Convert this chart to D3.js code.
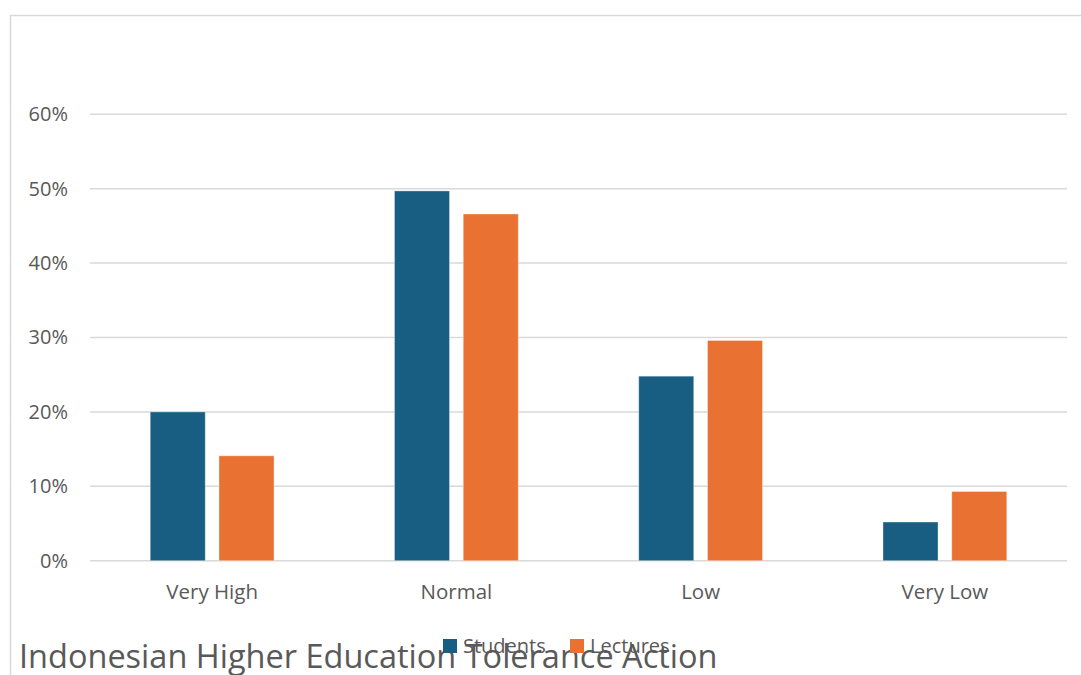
<!DOCTYPE html>
<html><head><meta charset="utf-8">
<script src="https://cdn.jsdelivr.net/npm/d3@7"></script>
<style>body{margin:0;background:#fff;}svg{display:block;font-family:"Open Sans",sans-serif;}</style>
</head><body>
<svg id="c" width="1081" height="675"></svg>
<script>
const categories = ["Very High", "Normal", "Low", "Very Low"];
const seriesNames = ["Students", "Lectures"];
const students = [0.200, 0.497, 0.248, 0.052];
const lectures = [0.141, 0.466, 0.296, 0.093];
const yTicks = [0, 0.1, 0.2, 0.3, 0.4, 0.5, 0.6];
const colors = ["#175e82", "#e97132"];
const title = "Indonesian Higher Education Tolerance Action";

const svg = d3.select("#c");
// chart frame
svg.append("path").attr("d", "M10.5,675 V15.5 H1081").attr("fill", "none").attr("stroke", "#d9d9d9").attr("stroke-width", 1.5);

const pLeft = 90, pRight = 1067, pTop = 114.3, pBottom = 560.7;
const x = d3.scaleBand().domain(categories).range([pLeft, pRight]).paddingInner(0).paddingOuter(0);
const y = d3.scaleLinear().domain([0, 0.6]).range([pBottom, pTop]);
const inner = d3.scaleBand().domain(seriesNames).range([0, x.bandwidth()]).paddingInner(0.2).paddingOuter(0.876);

// gridlines
svg.append("g").selectAll("line").data(yTicks).join("line")
  .attr("x1", pLeft).attr("x2", pRight)
  .attr("y1", d => y(d)).attr("y2", d => y(d))
  .attr("stroke", "#d9d9d9").attr("stroke-width", 1.5);

// y axis labels
const yAxis = d3.axisLeft(y).tickValues(yTicks).tickFormat(d3.format(".0%")).tickSize(0).tickPadding(22);
const yg = svg.append("g").attr("transform", `translate(${pLeft},0)`).call(yAxis);
yg.select(".domain").remove();
yg.selectAll("text").attr("font-size", 20).attr("fill", "#595959").attr("font-family", "Open Sans");

// bars
const data = [students, lectures];
const groups = svg.append("g").selectAll("g").data(seriesNames).join("g").attr("fill", (d, i) => colors[i]);
groups.selectAll("rect").data((s, i) => categories.map((c, j) => ({c, v: data[i][j], s})))
  .join("rect")
  .attr("x", d => x(d.c) + inner(d.s))
  .attr("width", inner.bandwidth())
  .attr("y", d => y(d.v))
  .attr("height", d => y(0) - y(d.v))
  .attr("stroke", "rgba(255,255,255,0.35)").attr("stroke-width", 1);

// x axis labels
const xAxis = d3.axisBottom(x).tickSize(0).tickPadding(24);
const xg = svg.append("g").attr("transform", `translate(0,${pBottom})`).call(xAxis);
xg.select(".domain").remove();
xg.selectAll("text").attr("font-size", 20.5).attr("fill", "#595959").attr("font-family", "Open Sans");

// title
svg.append("text").attr("x", 19).attr("y", 668).attr("font-size", 32.5).attr("fill", "#595959").text(title);

// legend
const legX = [443, 570];
const leg = svg.append("g").selectAll("g").data(seriesNames).join("g")
  .attr("transform", (d, i) => `translate(${legX[i]},639)`);
leg.append("rect").attr("width", 14).attr("height", 14).attr("fill", (d, i) => colors[i]);
leg.append("text").attr("x", 20).attr("y", 14).attr("font-size", 20).attr("fill", "#595959").text(d => d);
</script>
</body></html>
